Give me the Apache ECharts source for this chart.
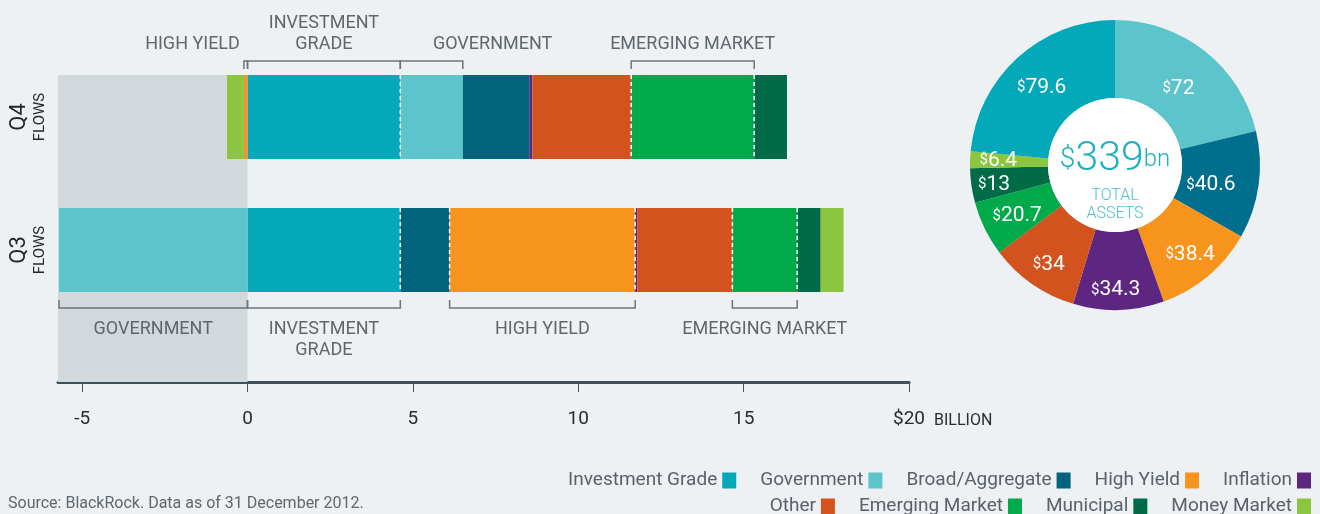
<!DOCTYPE html>
<html>
<head>
<meta charset="utf-8">
<script src="https://cdn.jsdelivr.net/npm/echarts@6/dist/echarts.min.js"></script>
<style>
  html, body { margin: 0; padding: 0; background: #edf1f4; }
  #chart { width: 1320px; height: 514px; }
</style>
</head>
<body>
<div id="chart"></div>
<script>
// quarters on the bar chart (bottom to top)
const quarters = ['Q3', 'Q4']

// sector order = stacking order
const sectorNames = ['Investment Grade', 'Government', 'Broad/Aggregate', 'High Yield', 'Inflation',
  'Other', 'Emerging Market', 'Municipal', 'Money Market']

// flows in $ billion, [Q3, Q4]
const investmentGradeFlows = [4.62, 4.62]
const governmentFlows = [-5.7, 1.89]
const broadAggregateFlows = [1.49, 2.01]
const highYieldFlows = [5.61, -0.11]
const inflationFlows = [0.07, 0.09]
const otherFlows = [2.87, 2.99]
const emergingMarketFlows = [1.96, 3.72]
const municipalFlows = [0.71, 0.99]
const moneyMarketFlows = [0.69, -0.51]

// total assets donut, $ billion, clockwise from 12 o'clock
const assetNames = ['Government', 'Broad/Aggregate', 'High Yield', 'Inflation', 'Other',
  'Emerging Market', 'Municipal', 'Money Market', 'Investment Grade']
const assetValues = [72, 40.6, 38.4, 34.3, 34, 20.7, 13, 6.4, 79.6]
const totalAssets = 339

const xTicks = [-5, 0, 5, 10, 15, 20]
const xMin = -5.73
const xMax = 20

// bracket callouts: [quarter, sector, text, side]
const brackets = [
  ['Q4', 'High Yield', 'HIGH YIELD', 'top'],
  ['Q4', 'Investment Grade', 'INVESTMENT\nGRADE', 'top'],
  ['Q4', 'Government', 'GOVERNMENT', 'top'],
  ['Q4', 'Emerging Market', 'EMERGING MARKET', 'top'],
  ['Q3', 'Government', 'GOVERNMENT', 'bottom'],
  ['Q3', 'Investment Grade', 'INVESTMENT\nGRADE', 'bottom'],
  ['Q3', 'High Yield', 'HIGH YIELD', 'bottom'],
  ['Q3', 'Emerging Market', 'EMERGING MARKET', 'bottom']
]

// dashed dividers: [quarter, sector, edge (0 start / 1 end)]
const dividers = [
  ['Q4', 'Investment Grade', 1], ['Q4', 'Emerging Market', 0], ['Q4', 'Emerging Market', 1],
  ['Q3', 'Investment Grade', 1], ['Q3', 'High Yield', 0], ['Q3', 'High Yield', 1],
  ['Q3', 'Emerging Market', 0], ['Q3', 'Emerging Market', 1]
]

const flowSeries = [investmentGradeFlows, governmentFlows, broadAggregateFlows, highYieldFlows,
  inflationFlows, otherFlows, emergingMarketFlows, municipalFlows, moneyMarketFlows]

const colors = {
  'Investment Grade': '#03a9b9',
  'Government': '#5bc5cb',
  'Broad/Aggregate': '#02647c',
  'High Yield': '#f7941e',
  'Inflation': '#5c2681',
  'Other': '#d2531e',
  'Emerging Market': '#00aa4b',
  'Municipal': '#006b46',
  'Money Market': '#8cc53f'
}
const pieColors = Object.assign({}, colors, { 'Broad/Aggregate': '#006f8e' })

const FONT = 'Roboto, "Noto Sans", sans-serif'
const BAR_W = 84
const AXIS_OFFSET = 65.5

// small nudges so the donut labels sit where the original put them [dx, dy]
const pieLabelShift = [[-4, 9], [-12, 5], [5, 6], [-2, 16], [-4, 10], [0, 3], [-13, 4], [0, -1], [0, 3]]

// where a sector's segment sits in the stacked bar
function extent(q, sector) {
  const qi = quarters.indexOf(q)
  let pos = 0, neg = 0
  for (let i = 0; i < sectorNames.length; i++) {
    const v = flowSeries[i][qi]
    let a, b
    if (v >= 0) { a = pos; pos += v; b = pos } else { b = neg; neg += v; a = neg }
    if (sectorNames[i] === sector) return [a, b]
  }
}

// label tweaks for the crowded top row
const labelNudge = {
  'Q4|High Yield': { align: 'right', anchor: 0, dx: -4 },
  'Q4|Government': { dx: 61 }
}

function renderShade(params, api) {
  const pMin = api.coord([api.value(0), 1])
  const pZero = api.coord([api.value(1), 1])
  const top = pMin[1] - BAR_W / 2
  const bottom = params.coordSys.y + params.coordSys.height + AXIS_OFFSET
  return {
    type: 'rect',
    shape: { x: pMin[0], y: top, width: pZero[0] - pMin[0], height: bottom - top },
    style: { fill: '#d1d9dc' }
  }
}

function renderBracket(params, api) {
  const b = brackets[params.dataIndex]
  const qi = api.value(2)
  const p0 = api.coord([api.value(0), qi])
  const p1 = api.coord([api.value(1), qi])
  const isTop = b[3] === 'top'
  const edge = isTop ? p0[1] - BAR_W / 2 : p0[1] + BAR_W / 2
  const lineY = isTop ? edge - 14 : edge + 16
  const tickY = isTop ? edge - 6 : edge + 8
  const nudge = labelNudge[b[0] + '|' + b[1]] || {}
  let tx = (p0[0] + p1[0]) / 2
  if (nudge.anchor === 0) tx = p0[0]
  tx += nudge.dx || 0
  return {
    type: 'group',
    children: [
      {
        type: 'polyline',
        shape: { points: [[p0[0], tickY], [p0[0], lineY], [p1[0], lineY], [p1[0], tickY]] },
        style: { stroke: '#6d7479', lineWidth: 1.5, fill: null }
      },
      {
        type: 'text',
        style: {
          text: b[2],
          x: tx,
          y: isTop ? lineY - 6 : lineY + 11,
          align: nudge.align || 'center',
          verticalAlign: isTop ? 'bottom' : 'top',
          fill: '#60676c',
          fontSize: 18,
          lineHeight: 21,
          fontFamily: FONT
        }
      }
    ]
  }
}

function renderDivider(params, api) {
  const p = api.coord([api.value(0), api.value(1)])
  return {
    type: 'line',
    shape: { x1: p[0], y1: p[1] - BAR_W / 2, x2: p[0], y2: p[1] + BAR_W / 2 },
    style: { stroke: '#ffffff', lineWidth: 1.5, lineDash: [4, 3] }
  }
}

const chart = echarts.init(document.getElementById('chart'))

const barSeries = sectorNames.map((name, i) => ({
  name: name,
  type: 'bar',
  stack: 'flows',
  barWidth: BAR_W,
  z: 2,
  itemStyle: { color: colors[name] },
  data: flowSeries[i]
}))

const legendCommon = {
  right: 4,
  align: 'right',
  icon: 'rect',
  itemWidth: 14,
  itemHeight: 16,
  itemGap: 24,
  textStyle: { fontSize: 19, color: '#5a6169', fontFamily: FONT }
}

const option = {
  backgroundColor: '#edf1f4',
  animation: false,
  grid: { left: 58, top: 50.5, width: 851, height: 266 },
  xAxis: {
    type: 'value',
    min: xMin,
    max: xMax,
    offset: AXIS_OFFSET,
    splitLine: { show: false },
    axisLine: { show: true, lineStyle: { color: '#3e4f58', width: 3 } },
    axisTick: { show: true, customValues: xTicks, length: 10, lineStyle: { color: '#4a5358', width: 1 } },
    axisLabel: {
      customValues: xTicks,
      margin: 28,
      fontSize: 19,
      color: '#2b2b2b',
      fontFamily: FONT,
      formatter: v => (v === 20 ? '$20' : String(v))
    },
    name: 'BILLION',
    nameLocation: 'end',
    nameGap: 25,
    nameTextStyle: { fontSize: 16, color: '#2b2b2b', fontFamily: FONT, verticalAlign: 'top', padding: [31, 0, 0, 0] }
  },
  yAxis: {
    type: 'category',
    data: quarters,
    axisLine: { show: false },
    axisTick: { show: false },
    axisLabel: {
      rotate: 90,
      margin: 9,
      formatter: v => '{q|' + v + '}\n{f|FLOWS}',
      rich: {
        q: { fontSize: 22, color: '#262626', fontFamily: FONT, lineHeight: 26 },
        f: { fontSize: 15, color: '#262626', fontFamily: FONT, lineHeight: 17 }
      }
    }
  },
  legend: [
    Object.assign({ data: sectorNames.slice(0, 5), top: 466 }, legendCommon),
    Object.assign({ data: sectorNames.slice(5), top: 492 }, legendCommon)
  ],
  graphic: [
    {
      type: 'text',
      left: 8,
      top: 496,
      style: { text: 'Source: BlackRock. Data as of 31 December 2012.', fontSize: 16, fill: '#5f676d', fontFamily: FONT }
    },
    {
      type: 'text',
      x: 1115,
      y: 160,
      z: 20,
      style: {
        text: '{s|$}{n|' + totalAssets + '}{u|bn}',
        align: 'center',
        verticalAlign: 'middle',
        rich: {
          s: { fontSize: 28, fill: '#1eafc0', fontFamily: FONT, fontWeight: 300 },
          n: { fontSize: 41, fill: '#1eafc0', fontFamily: FONT, fontWeight: 300 },
          u: { fontSize: 24, fill: '#1eafc0', fontFamily: FONT, fontWeight: 300 }
        }
      }
    },
    {
      type: 'text',
      x: 1115,
      y: 205,
      z: 20,
      style: {
        text: 'TOTAL\nASSETS',
        align: 'center',
        verticalAlign: 'middle',
        fontSize: 16,
        lineHeight: 18,
        fill: '#4cbfcc',
        fontFamily: FONT,
        fontWeight: 300
      }
    }
  ],
  series: [
    {
      type: 'custom',
      z: 1,
      silent: true,
      renderItem: renderShade,
      encode: { x: [0, 1] },
      data: [[xMin, 0]]
    },
    ...barSeries,
    {
      type: 'custom',
      z: 5,
      silent: true,
      renderItem: renderDivider,
      encode: { x: 0, y: 1 },
      data: dividers.map(d => [extent(d[0], d[1])[d[2]], quarters.indexOf(d[0])])
    },
    {
      type: 'custom',
      z: 5,
      silent: true,
      renderItem: renderBracket,
      encode: { x: [0, 1], y: 2 },
      data: brackets.map(b => {
        const e = extent(b[0], b[1])
        return [e[0], e[1], quarters.indexOf(b[0])]
      })
    },
    {
      type: 'pie',
      center: [1115, 165],
      radius: [67, 145],
      startAngle: 90,
      clockwise: true,
      z: 3,
      silent: true,
      legendHoverLink: false,
      avoidLabelOverlap: false,
      label: {
        position: 'inside',
        formatter: p => '{s|$}{v|' + p.value + '}',
        rich: {
          s: { fontSize: 15, color: '#ffffff', fontFamily: FONT },
          v: { fontSize: 21, color: '#ffffff', fontFamily: FONT }
        }
      },
      labelLine: { show: false },
      labelLayout: p => ({ dx: pieLabelShift[p.dataIndex][0], dy: pieLabelShift[p.dataIndex][1] }),
      data: assetNames.map((n, i) => {
        const item = { name: n, value: assetValues[i], itemStyle: { color: pieColors[n] } }
        // the thinnest slice: its label is pulled back onto the ring
        if (n === 'Money Market') {
          item.label = { position: 'outside' }
          item.labelLine = { show: false, length: -52, length2: 0 }
        }
        return item
      })
    },
    {
      type: 'pie',
      center: [1115, 165],
      radius: [0, 67],
      z: 3,
      silent: true,
      label: { show: false },
      labelLine: { show: false },
      data: [{ name: 'hole', value: 1, itemStyle: { color: '#ffffff' } }]
    }
  ]
}

chart.setOption(option)
</script>
</body>
</html>
